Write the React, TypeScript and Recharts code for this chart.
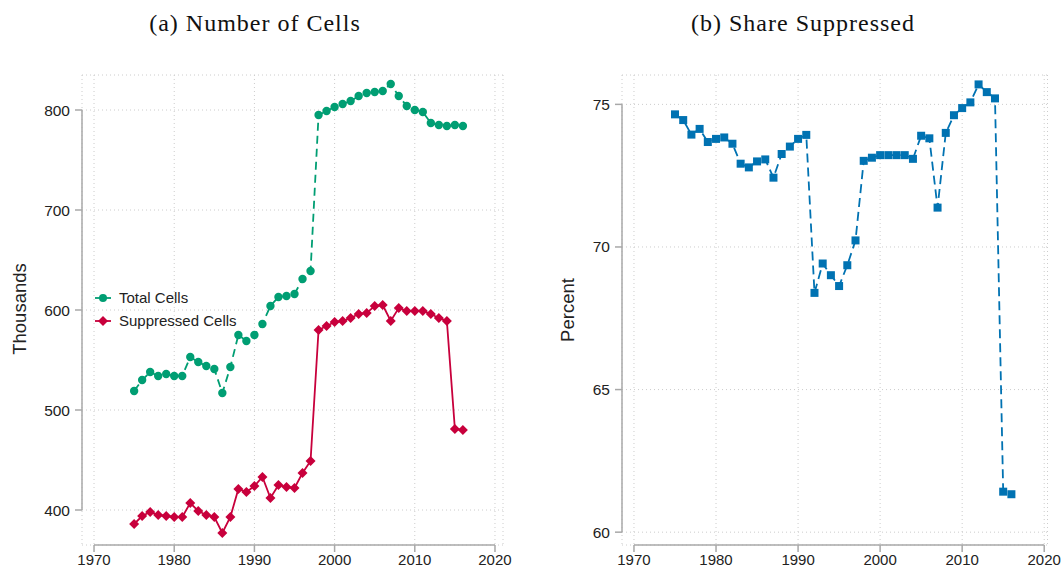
// Two-panel figure: cell counts (thousands) and share suppressed (percent), 1975-2016.

import {
  CartesianGrid,
  Legend,
  Line,
  LineChart,
  ReferenceLine,
  XAxis,
  YAxis,
} from 'recharts';

const years = [
  1975, 1976, 1977, 1978, 1979, 1980, 1981, 1982, 1983, 1984, 1985, 1986, 1987, 1988,
  1989, 1990, 1991, 1992, 1993, 1994, 1995, 1996, 1997, 1998, 1999, 2000, 2001, 2002,
  2003, 2004, 2005, 2006, 2007, 2008, 2009, 2010, 2011, 2012, 2013, 2014, 2015, 2016,
];

// thousands
const totalCells = [
  519, 530, 538, 534, 536, 534, 534, 553, 548, 544, 541, 517, 543, 575,
  569, 575, 586, 604, 613, 614, 616, 631, 639, 795, 799, 803, 806, 809,
  814, 817, 818, 819, 826, 814, 804, 800, 798, 787, 785, 784, 785, 784,
];

const suppressedCells = [
  386, 394, 398, 395, 394, 393, 393, 407, 399, 395, 393, 377, 393, 421,
  418, 424, 433, 412, 425, 423, 422, 437, 449, 580, 584, 588, 589, 592,
  596, 597, 604, 605, 589, 602, 599, 599, 599, 596, 592, 589, 481, 480,
];

// percent
const shareSuppressed = [
  74.65, 74.45, 73.94, 74.14, 73.68, 73.79, 73.84, 73.62, 72.92, 72.79, 73.0, 73.07, 72.43, 73.26,
  73.52, 73.79, 73.93, 68.39, 69.42, 69.01, 68.63, 69.36, 70.23, 73.02, 73.13, 73.22, 73.22, 73.22,
  73.22, 73.09, 73.9, 73.81, 71.38, 74.0, 74.62, 74.87, 75.07, 75.7, 75.43, 75.21, 61.42, 61.33,
];

const yearTicks = [1970, 1980, 1990, 2000, 2010, 2020];
const cellTicks = [400, 500, 600, 700, 800];
const shareTicks = [60, 65, 70, 75];

const GREEN = '#009E73';
const RED = '#C8003C';
const BLUE = '#0072B2';
const AXIS = '#a8a8a8';
const GRID = '#cccccc';
const TEXT = '#222222';
const SANS = '"Liberation Sans", Arial, Helvetica, sans-serif';
const SERIF = '"Liberation Serif", "Times New Roman", serif';

const cellsData = years.map((year, i) => ({
  year,
  total: totalCells[i],
  suppressed: suppressedCells[i],
}));
const shareData = years.map((year, i) => ({ year, share: shareSuppressed[i] }));

// plot-region domains (Stata leaves a little room around the axis range)
const cellsX: [number, number] = [1968.5, 2021.0];
const cellsY: [number, number] = [365, 835];
const shareX: [number, number] = [1968.54, 2020.4];
const shareY: [number, number] = [59.55, 76.03];

const circleDot = (p: any) => (
  <circle key={`c-${p.index}`} cx={p.cx} cy={p.cy} r={4.2} fill={GREEN} />
);

const diamondDot = (p: any) => {
  const s = 5;
  return (
    <polygon
      key={`d-${p.index}`}
      points={`${p.cx},${p.cy - s} ${p.cx + s},${p.cy} ${p.cx},${p.cy + s} ${p.cx - s},${p.cy}`}
      fill={RED}
    />
  );
};

const squareDot = (p: any) => (
  <rect key={`s-${p.index}`} x={p.cx - 4} y={p.cy - 4} width={8} height={8} fill={BLUE} />
);

function CellsLegend() {
  const items = [
    { label: 'Total Cells', color: GREEN, shape: 'circle' },
    { label: 'Suppressed Cells', color: RED, shape: 'diamond' },
  ];
  return (
    <div style={{ fontFamily: SANS, fontSize: 15, color: TEXT }}>
      {items.map((it) => (
        <div key={it.label} style={{ display: 'flex', alignItems: 'center', height: 23 }}>
          <svg width={16} height={12}>
            <line x1={0} x2={16} y1={6} y2={6} stroke={it.color} strokeWidth={1.8} />
            {it.shape === 'circle' ? (
              <circle cx={8} cy={6} r={4} fill={it.color} />
            ) : (
              <polygon points="8,1 13,6 8,11 3,6" fill={it.color} />
            )}
          </svg>
          <span style={{ marginLeft: 8 }}>{it.label}</span>
        </div>
      ))}
    </div>
  );
}

const xTick = { fill: TEXT, fontSize: 15, fontFamily: SANS };
const yTick = { fill: TEXT, fontSize: 15.5, fontFamily: SANS };

const titleStyle: React.CSSProperties = {
  position: 'absolute',
  top: 10,
  width: 520,
  textAlign: 'center',
  fontFamily: SERIF,
  fontSize: 24,
  letterSpacing: 1,
  color: '#111',
};

const yLabelStyle: React.CSSProperties = {
  position: 'absolute',
  transform: 'translate(-50%, -50%) rotate(-90deg)',
  fontFamily: SANS,
  fontSize: 18.5,
  color: TEXT,
  whiteSpace: 'nowrap',
};

export default function App() {
  return (
    <div
      style={{
        position: 'fixed',
        left: 0,
        top: 0,
        width: 1062,
        height: 569,
        background: '#fff',
      }}
    >
      <div style={{ ...titleStyle, left: -5 }}>(a) Number of Cells</div>
      <div style={{ ...titleStyle, left: 543 }}>(b) Share Suppressed</div>
      <div style={{ ...yLabelStyle, left: 20, top: 309 }}>Thousands</div>
      <div style={{ ...yLabelStyle, left: 568, top: 310 }}>Percent</div>

      <div style={{ position: 'absolute', left: 0, top: 0 }}>
        <LineChart
          width={530}
          height={569}
          data={cellsData}
          margin={{ top: 75, right: 27, bottom: 0, left: 22 }}
        >
          <CartesianGrid stroke={GRID} strokeDasharray="1 3" />
          <XAxis
            dataKey="year"
            type="number"
            domain={cellsX}
            ticks={yearTicks}
            allowDataOverflow
            height={24}
            axisLine={false}
            tickLine={{ stroke: AXIS, strokeWidth: 1.5 }}
            tickSize={7}
            tick={xTick}
          />
          <YAxis
            type="number"
            domain={cellsY}
            ticks={cellTicks}
            allowDataOverflow
            width={60}
            axisLine={false}
            tickLine={{ stroke: AXIS, strokeWidth: 1.5 }}
            tickSize={7}
            tickMargin={5}
            tick={yTick}
          />
          <ReferenceLine
            segment={[{ x: 1970, y: cellsY[0] }, { x: 2020, y: cellsY[0] }]}
            stroke={AXIS}
            strokeWidth={1.5}
          />
          <ReferenceLine
            segment={[{ x: cellsX[0], y: 400 }, { x: cellsX[0], y: 800 }]}
            stroke={AXIS}
            strokeWidth={1.5}
          />
          <Line
            dataKey="total"
            name="Total Cells"
            stroke={GREEN}
            strokeWidth={1.8}
            strokeDasharray="8 5"
            dot={circleDot}
            activeDot={false}
            isAnimationActive={false}
          />
          <Line
            dataKey="suppressed"
            name="Suppressed Cells"
            stroke={RED}
            strokeWidth={1.8}
            dot={diamondDot}
            activeDot={false}
            isAnimationActive={false}
          />
          <Legend
            layout="vertical"
            align="center"
            verticalAlign="middle"
            wrapperStyle={{ left: 95, top: 286, width: 220 }}
            content={() => <CellsLegend />}
          />
        </LineChart>
      </div>

      <div style={{ position: 'absolute', left: 540, top: 0 }}>
        <LineChart
          width={522}
          height={569}
          data={shareData}
          margin={{ top: 75, right: 14.5, bottom: 0, left: 22 }}
        >
          <CartesianGrid stroke={GRID} strokeDasharray="1 3" />
          <XAxis
            dataKey="year"
            type="number"
            domain={shareX}
            ticks={yearTicks}
            allowDataOverflow
            height={24}
            axisLine={false}
            tickLine={{ stroke: AXIS, strokeWidth: 1.5 }}
            tickSize={7}
            tick={xTick}
          />
          <YAxis
            type="number"
            domain={shareY}
            ticks={shareTicks}
            allowDataOverflow
            width={60}
            axisLine={false}
            tickLine={{ stroke: AXIS, strokeWidth: 1.5 }}
            tickSize={7}
            tickMargin={5}
            tick={yTick}
          />
          <ReferenceLine
            segment={[{ x: 1970, y: shareY[0] }, { x: 2020, y: shareY[0] }]}
            stroke={AXIS}
            strokeWidth={1.5}
          />
          <ReferenceLine
            segment={[{ x: shareX[0], y: 60 }, { x: shareX[0], y: 75 }]}
            stroke={AXIS}
            strokeWidth={1.5}
          />
          <Line
            dataKey="share"
            name="Share Suppressed"
            stroke={BLUE}
            strokeWidth={1.8}
            strokeDasharray="9 5"
            dot={squareDot}
            activeDot={false}
            isAnimationActive={false}
          />
        </LineChart>
      </div>
    </div>
  );
}
